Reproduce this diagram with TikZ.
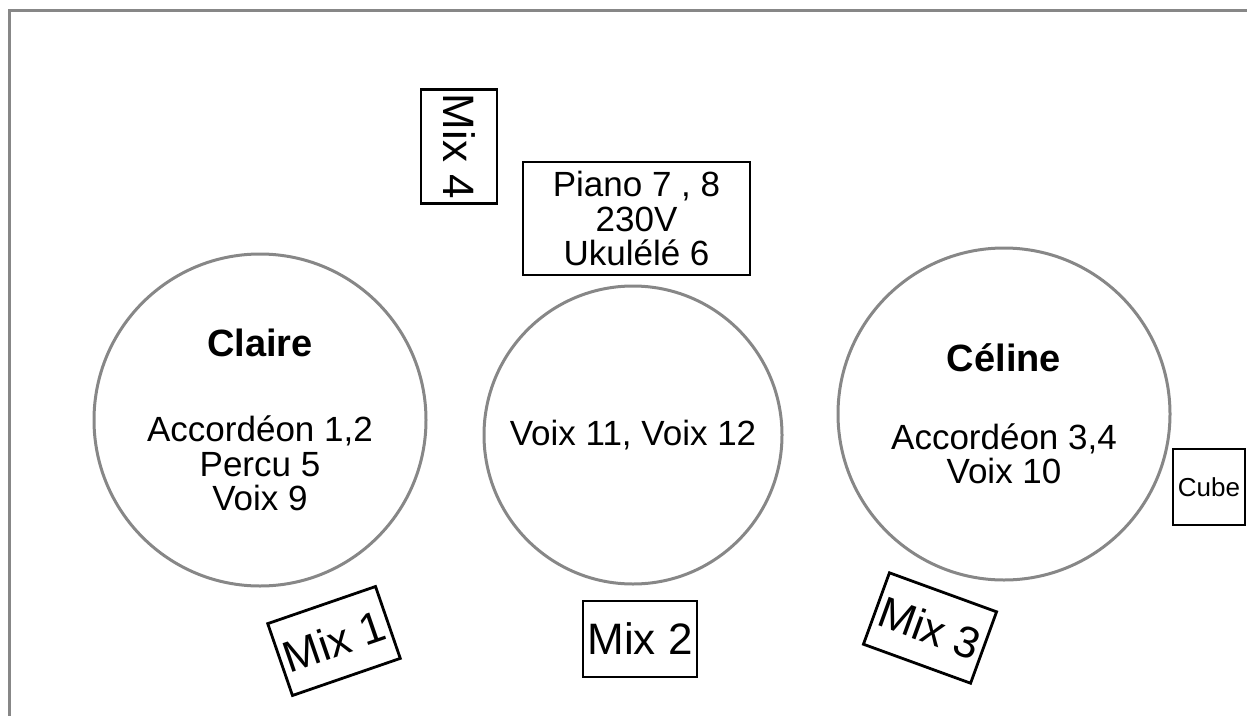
\documentclass[tikz,border=0pt]{standalone}
\usepackage{fontspec}
\setmainfont{Liberation Sans}
\definecolor{ringgray}{HTML}{878787}
\begin{document}
\begin{tikzpicture}[x=1pt,y=-1pt,
  ring/.style={circle, draw=ringgray, line width=3pt, inner sep=0pt, align=center,
    font=\fontsize{35}{34.5}\selectfont},
  namefont/.style={},
  mixbox/.style={rectangle, draw=black, line width=2.8pt, inner sep=0pt,
    minimum width=114pt, minimum height=76pt, font=\fontsize{44}{45}\selectfont},
  infobox/.style={rectangle, draw=black, line width=2pt, inner sep=0pt, align=center,
    font=\fontsize{35}{34.5}\selectfont},
  framestyle/.style={draw=ringgray, line width=3pt}]
\useasboundingbox (0,0) rectangle (1247,715);
% outer frame (only top and left visible)
\coordinate (fbl) at (9.5,716);
\coordinate (ftl) at (9.5,10.5);
\coordinate (ftr) at (1248,10.5);
\draw[framestyle] (fbl) -- (ftl) -- (ftr);
% circles
\node[ring, minimum size=332pt] (claire) at (260,420)
  {{\fontsize{38}{34.5}\selectfont\bfseries Claire}\\[51pt]Accordéon 1,2\\Percu 5\\Voix 9};
\node[ring, minimum size=298pt] (middle) at (633,435) {Voix 11, Voix 12};
\node[ring, minimum size=332pt] (celine) at (1004,414)
  {{\fontsize{38}{34.5}\selectfont\bfseries Céline}\\[43pt]Accordéon 3,4\\Voix 10};
% boxes
\node[infobox, minimum width=227pt, minimum height=113pt] (piano) at (636.5,218.5)
  {Piano 7 , 8\\230V\\Ukulélé 6};
\node[mixbox, rotate=-90] (mix4) at (459,146.5) {Mix 4};
\node[mixbox, rotate=19] (mix1) at (334,641) {Mix 1};
\node[mixbox] (mix2) at (640,639) {Mix 2};
\node[mixbox, rotate=-20] (mix3) at (930,628) {Mix 3};
\node[rectangle, draw=black, line width=2pt, inner sep=0pt, minimum width=72pt,
  minimum height=76pt, font=\fontsize{26}{28}\selectfont] (cube) at (1209,487) {Cube};
\end{tikzpicture}
\end{document}
